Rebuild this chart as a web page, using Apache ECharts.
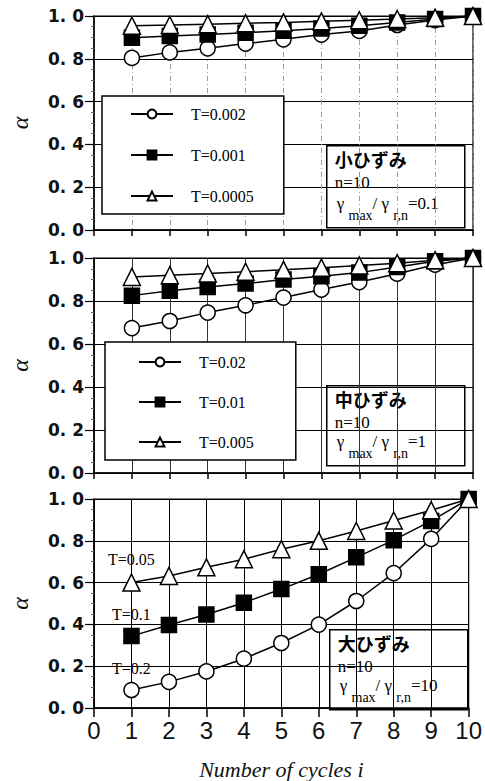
<!DOCTYPE html>
<html>
<head>
<meta charset="utf-8">
<script src="https://cdn.jsdelivr.net/npm/echarts@6/dist/echarts.min.js"></script>
<style>html,body{margin:0;padding:0;background:#fff}#c{width:485px;height:781px}</style>
</head>
<body>
<div id="c"></div>
<script>
// ---- data ----
const cycles = [1, 2, 3, 4, 5, 6, 7, 8, 9, 10];
const yTicks = [0, 0.2, 0.4, 0.6, 0.8, 1.0];
const xTicks = [0, 1, 2, 3, 4, 5, 6, 7, 8, 9, 10];

// panel 1: 小ひずみ
const smallNames = ['T=0.002', 'T=0.001', 'T=0.0005'];
const small_T0002 = [0.804, 0.830, 0.849, 0.871, 0.891, 0.913, 0.930, 0.958, 0.981, 1.0];
const small_T0001 = [0.898, 0.906, 0.914, 0.922, 0.931, 0.942, 0.955, 0.970, 0.986, 1.0];
const small_T00005 = [0.955, 0.958, 0.962, 0.966, 0.970, 0.975, 0.980, 0.986, 0.992, 1.0];

// panel 2: 中ひずみ
const midNames = ['T=0.02', 'T=0.01', 'T=0.005'];
const mid_T002 = [0.674, 0.707, 0.746, 0.780, 0.816, 0.853, 0.888, 0.927, 0.969, 1.0];
const mid_T001 = [0.825, 0.848, 0.865, 0.881, 0.900, 0.915, 0.932, 0.958, 0.985, 1.0];
const mid_T0005 = [0.912, 0.920, 0.928, 0.936, 0.945, 0.955, 0.965, 0.976, 0.990, 1.0];

// panel 3: 大ひずみ
const largeNames = ['T=0.2', 'T=0.1', 'T=0.05'];
const large_T02 = [0.086, 0.125, 0.175, 0.236, 0.311, 0.399, 0.512, 0.645, 0.809, 1.0];
const large_T01 = [0.344, 0.397, 0.447, 0.504, 0.569, 0.640, 0.721, 0.803, 0.895, 1.0];
const large_T005 = [0.600, 0.632, 0.673, 0.712, 0.760, 0.800, 0.847, 0.897, 0.946, 1.0];

const boxTitles = ['小ひずみ', '中ひずみ', '大ひずみ'];
const ratioValues = ['0.1', '1', '10'];

// ---- build ----
const pairs = vals => cycles.map((c, i) => [c, vals[i]]);
const SERIF = '"Liberation Serif", "DejaVu Serif", serif';
const SANS = '"Liberation Sans", Arial, sans-serif';
const DJV = '"DejaVu Sans", sans-serif';
const CJK = '"Noto Sans CJK JP", sans-serif';

const grids = [
  {left: 89, right: 12, top: 16, height: 214},
  {left: 89, right: 12, top: 258, height: 215},
  {left: 89, right: 12, top: 499, height: 213}
].map(g => Object.assign(g, {show: true, borderColor: '#000', borderWidth: 1.2, backgroundColor: 'transparent'}));

const vSplit = [
  {color: '#999', type: [5, 3, 1, 3], width: 1},
  {color: '#333', type: 'solid', width: 1},
  {color: '#000', type: 'solid', width: 1}
];

const xAxes = [0, 1, 2].map(i => ({
  type: 'value', gridIndex: i, min: xTicks[0], max: xTicks[xTicks.length - 1], interval: 1,
  axisLine: {show: true, lineStyle: {color: '#000', width: 1.5}},
  axisTick: {show: true, inside: false, length: i === 2 ? 9 : 6, lineStyle: {color: '#000', width: 1.5}},
  axisLabel: {show: i === 2, fontFamily: SANS, fontSize: 24, color: '#111', margin: 10},
  splitLine: {show: true, lineStyle: vSplit[i]},
  name: i === 2 ? 'Number of cycles i' : '',
  nameLocation: 'middle', nameGap: 50,
  nameTextStyle: {fontFamily: SERIF, fontStyle: 'italic', fontSize: 22, color: '#111'}
}));

const yAxes = [0, 1, 2].map(i => ({
  type: 'value', gridIndex: i, min: yTicks[0], max: yTicks[yTicks.length - 1], interval: 0.2,
  axisLine: {show: true, lineStyle: {color: '#000', width: 1.5}},
  axisTick: {show: true, inside: false, length: 9, lineStyle: {color: '#000', width: 1.2}},
  minorTick: {show: true, splitNumber: 4, length: 3, lineStyle: {color: '#666', width: 1}},
  axisLabel: {fontFamily: DJV, fontWeight: 'bold', fontSize: 17, color: '#111', margin: 10,
    formatter: v => v.toFixed(1).replace('.', '. ')},
  splitLine: {show: true, lineStyle: {color: '#000', width: 1}},
  name: 'α', nameLocation: 'middle', nameGap: 62, nameRotate: 90,
  nameTextStyle: {fontFamily: SERIF, fontStyle: 'italic', fontSize: 24, color: '#111'}
}));

function mkSeries(name, vals, idx, kind, withLabel) {
  const sym = kind === 0 ? 'circle' : kind === 1 ? 'rect' : 'triangle';
  const size = kind === 0 ? 15 : kind === 1 ? 15 : 17;
  return {
    type: 'line', name, xAxisIndex: idx, yAxisIndex: idx, data: pairs(vals),
    symbol: sym, symbolSize: size, showAllSymbol: true,
    lineStyle: {color: '#000', width: 1.5},
    itemStyle: {color: kind === 1 ? '#000' : '#fff', borderColor: '#000', borderWidth: 1.5},
    emphasis: {disabled: true},
    label: withLabel ? {
      show: true, position: 'top', distance: kind === 2 ? 6 : 5,
      fontFamily: SERIF, fontSize: 16, color: '#000',
      formatter: p => p.dataIndex === 0 ? name : ''
    } : {show: false},
    z: 3 + kind
  };
}

const series = [
  mkSeries(smallNames[0], small_T0002, 0, 0), mkSeries(smallNames[1], small_T0001, 0, 1), mkSeries(smallNames[2], small_T00005, 0, 2),
  mkSeries(midNames[0], mid_T002, 1, 0), mkSeries(midNames[1], mid_T001, 1, 1), mkSeries(midNames[2], mid_T0005, 1, 2),
  mkSeries(largeNames[0], large_T02, 2, 0, true), mkSeries(largeNames[1], large_T01, 2, 1, true), mkSeries(largeNames[2], large_T005, 2, 2, true)
];

const legendBase = {
  orient: 'vertical', selectedMode: false, itemWidth: 42, itemHeight: 11,
  backgroundColor: '#fff', borderColor: '#000', borderWidth: 1.5,
  textStyle: {fontFamily: SERIF, fontSize: 16, color: '#000', padding: [0, 0, 0, 13]}
};
const legends = [
  Object.assign({}, legendBase, {data: smallNames, left: 102, top: 96, itemGap: 25, padding: [10, 30, 10, 28]}),
  Object.assign({}, legendBase, {data: midNames, left: 105, top: 342, itemGap: 24, padding: [12, 42, 10, 33]})
];

function infoBox(x, y, h, title, ratio) {
  return {
    type: 'group', left: x, top: y, z: 100,
    children: [
      {type: 'rect', shape: {x: 0, y: 0, width: 138, height: h}, style: {fill: '#fff', stroke: '#000', lineWidth: 1.5}},
      {type: 'text', x: 8, y: 4, style: {text: title, fontFamily: CJK, fontWeight: 'bold', fontSize: 18, fill: '#000'}},
      {type: 'text', x: 8, y: 28, style: {text: 'n=10', fontFamily: SERIF, fontSize: 17, fill: '#000'}},
      {type: 'text', x: 10, y: h - 33, style: {
        text: '{g|γ }{s|max}{g|/ γ }{s|r,n}{g|=' + ratio + '}',
        rich: {
          g: {fontFamily: SERIF, fontSize: 17, fill: '#000', lineHeight: 28, verticalAlign: 'top'},
          s: {fontFamily: SERIF, fontSize: 14, fill: '#000', lineHeight: 28, verticalAlign: 'bottom'}
        }
      }}
    ]
  };
}

const option = {
  animation: false,
  backgroundColor: '#fff',
  grid: grids, xAxis: xAxes, yAxis: yAxes, series, legend: legends,
  graphic: [
    infoBox(326, 145, 82, boxTitles[0], ratioValues[0]),
    infoBox(326, 385, 80, boxTitles[1], ratioValues[1]),
    infoBox(329, 629, 80, boxTitles[2], ratioValues[2])
  ]
};

const chart = echarts.init(document.getElementById('c'), null, {renderer: 'svg'});
chart.setOption(option);
</script>
</body>
</html>
